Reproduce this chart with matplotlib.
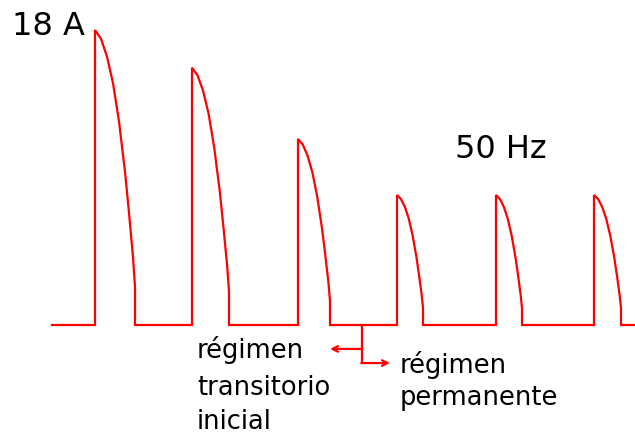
import matplotlib
matplotlib.use("Agg")
import matplotlib.pyplot as plt
import numpy as np

# ---- data (time in ms, current in A) ----
trace_start = 10.4
trace_end = 127.0
fire_times = [19.0, 38.4, 59.6, 79.4, 99.2, 118.8]
conduction_widths = [8.0, 7.4, 6.4, 5.2, 5.2, 5.4]
peak_currents = [18.0, 15.7, 11.35, 7.93, 7.93, 7.93]
# pulse profile: fraction of width -> fraction of peak
profile_frac_t = [0.0, 0.15, 0.30, 0.45, 0.60, 0.75, 0.85, 0.95, 1.0]
profile_frac_i = [1.0, 0.97, 0.91, 0.82, 0.69, 0.52, 0.38, 0.23, 0.13]
peak_label = "18 A"
freq_label = "50 Hz"
label_transient = ["régimen", "transitorio", "inicial"]
label_steady = ["régimen", "permanente"]

# ---- build trace ----
t = [trace_start]
i = [0.0]
for ft, w, pk in zip(fire_times, conduction_widths, peak_currents):
    t.append(ft); i.append(0.0)
    for ft_frac, i_frac in zip(profile_frac_t, profile_frac_i):
        t.append(ft + ft_frac * w)
        i.append(pk * i_frac)
    t.append(ft + w); i.append(0.0)
t.append(trace_end); i.append(0.0)

fig = plt.figure(figsize=(6.35, 4.34), dpi=100)
ax = fig.add_axes([0, 0, 1, 1])
ax.set_xlim(0, 127)
ax.set_ylim(-6.65, 19.83)
ax.axis("off")

red = "#ff0000"
ax.plot(t, i, color=red, lw=1.6, solid_joinstyle="miter")

ax.text(2.4, 18.2, peak_label, fontsize=23, ha="left", va="center", color="black")
ax.text(91.0, 10.7, freq_label, fontsize=23, ha="left", va="center", color="black")

# transient label lines (baselines in data coords)
for txt, yb in zip(label_transient, [-2.0, -4.27, -6.35]):
    ax.text(39.4, yb, txt, fontsize=18.5, ha="left", va="baseline", color="black")
for txt, yb in zip(label_steady, [-2.9, -4.88]):
    ax.text(80.0, yb, txt, fontsize=18.5, ha="left", va="baseline", color="black")

# bracket arrows
xv = 72.4
ax.plot([xv, xv], [0, -2.32], color=red, lw=1.6)
ax.annotate("", xy=(66.0, -1.46), xytext=(xv, -1.46),
            arrowprops=dict(arrowstyle="->", color=red, lw=1.6,
                            mutation_scale=10, shrinkA=0, shrinkB=0))
ax.annotate("", xy=(78.0, -2.32), xytext=(xv - 0.15, -2.32),
            arrowprops=dict(arrowstyle="->", color=red, lw=1.6,
                            mutation_scale=10, shrinkA=0, shrinkB=0))

fig.savefig("out.png", dpi=100)
